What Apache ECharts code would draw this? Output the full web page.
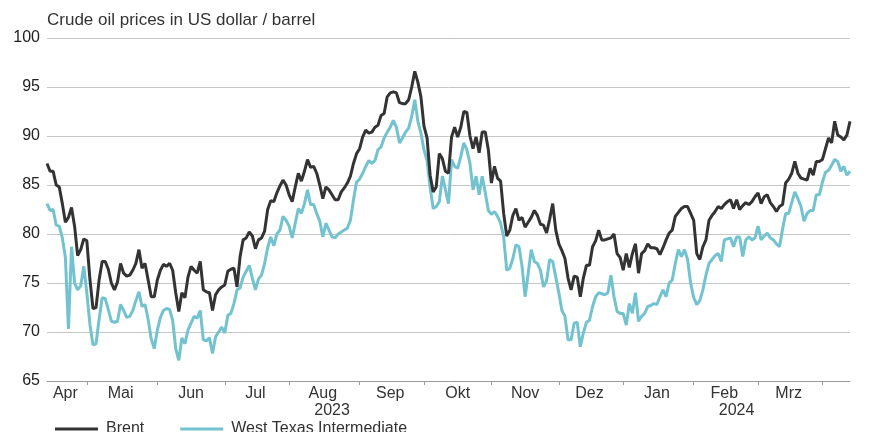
<!DOCTYPE html>
<html>
<head>
<meta charset="utf-8">
<script src="https://cdn.jsdelivr.net/npm/echarts@6/dist/echarts.min.js"></script>
<style>
  html, body { margin: 0; padding: 0; background: #fff; }
  #chart { width: 888px; height: 432px; }
</style>
</head>
<body>
<div id="chart"></div>
<script>
// Brent, USD/bbl, one value per trading day from 12.04.2023
var brent = [
  // Apr 2023
  87.2, 86.4, 86.4, 85.0, 84.8, 83.1, 81.2, 81.7, 82.7, 80.8, 77.8, 78.4, 79.5,
  // Mai
  79.3, 75.4, 72.4, 72.5, 75.3, 77.2, 77.2, 76.4, 75.0, 74.3, 75.1, 77.0, 76.0, 75.7, 75.8, 76.3, 77.0, 78.4, 76.5, 77.0, 75.3, 73.6, 73.6,
  // Jun
  75.3, 76.3, 76.9, 76.7, 77.0, 76.3, 74.0, 72.1, 74.0, 73.5, 75.6, 76.7, 76.3, 76.0, 77.2, 74.3, 74.1, 74.0, 72.2, 73.8, 74.3, 74.6,
  // Jul
  74.8, 76.2, 76.4, 76.5, 74.6, 77.7, 79.4, 79.6, 80.2, 79.8, 78.5, 79.4, 79.6, 80.3, 82.5, 83.4, 83.3, 84.2, 84.9, 85.5, 85.0,
  // Aug
  84.0, 83.3, 84.8, 86.2, 85.4, 86.4, 87.6, 86.8, 86.9, 86.2, 85.0, 83.6, 84.8, 84.5, 84.0, 83.5, 83.5, 84.3, 84.7, 85.2, 85.9, 87.2, 88.2,
  // Sep
  88.7, 89.9, 90.6, 90.3, 90.4, 90.9, 91.1, 92.1, 92.3, 94.0, 94.4, 94.5, 94.4, 93.4, 93.3, 93.3, 93.7, 95.0, 96.6, 95.5, 94.0,
  // Okt
  91.0, 89.8, 86.0, 84.3, 84.8, 88.2, 87.7, 86.4, 86.2, 89.9, 90.9, 89.9, 90.9, 92.5, 92.4, 90.0, 88.7, 89.9, 88.3, 90.4, 90.4, 88.6,
  // Nov
  85.2, 86.9, 85.7, 85.4, 82.1, 79.8, 80.4, 81.9, 82.6, 81.4, 81.7, 80.7, 81.2, 81.7, 82.4, 81.9, 81.0, 80.9, 80.1, 81.5, 83.1, 80.4,
  // Dez
  79.0, 78.3, 77.5, 75.5, 74.3, 75.7, 75.6, 73.6, 75.5, 76.8, 76.8, 78.7, 79.3, 80.4, 79.4, 79.4, 79.5, 79.6, 80.0, 78.0, 77.6,
  // Jan 2024
  76.3, 78.0, 76.6, 78.0, 79.0, 76.0, 78.0, 78.3, 79.0, 78.6, 78.6, 78.5, 77.9, 78.6, 79.4, 80.1, 80.4, 81.8, 82.2, 82.6, 82.8, 82.8, 82.1,
  // Feb
  81.4, 78.0, 77.4, 78.7, 79.4, 81.4, 81.9, 82.3, 82.8, 82.6, 83.0, 83.3, 83.5, 82.6, 83.5, 82.5, 82.9, 83.2, 83.0, 83.3, 83.8,
  // Mrz
  84.2, 83.1, 83.8, 84.0, 83.2, 82.8, 82.3, 82.8, 83.0, 85.2, 85.6, 86.2, 87.4, 86.2, 85.7, 85.6, 85.5, 86.7, 86.0, 87.4, 87.4,
  // Apr
  87.6, 88.7, 89.8, 89.3, 91.5, 90.1, 89.9, 89.6, 90.1, 91.5
];

// West Texas Intermediate, same days
var wti = [
  // Apr 2023
  83.1, 82.4, 82.5, 80.9, 80.8, 79.6, 77.6, 70.3, 78.7, 75.0, 74.3, 74.7, 76.7,
  // Mai
  74.0, 70.8, 68.7, 68.8, 71.3, 73.5, 73.4, 72.3, 71.1, 71.0, 71.1, 72.8, 72.2, 71.5, 71.6, 72.2, 73.2, 74.1, 72.6, 72.8, 71.3, 69.3, 68.3,
  // Jun
  70.2, 71.5, 72.2, 72.4, 72.3, 71.2, 68.3, 67.1, 69.4, 68.8, 70.2, 70.9, 71.6, 71.4, 72.2, 69.2, 69.1, 69.4, 67.8, 69.5, 70.0, 70.5,
  // Jul
  69.9, 71.7, 71.9, 72.9, 74.3, 74.5, 75.6, 76.2, 76.8, 75.5, 74.3, 75.4, 75.8, 77.0, 78.6, 79.7, 78.8, 80.0, 80.4, 81.8, 81.4,
  // Aug
  80.8, 79.6, 81.1, 82.6, 82.1, 83.1, 84.5, 83.0, 83.0, 82.1, 81.3, 79.7, 81.1, 80.4, 79.7, 79.6, 80.0, 80.2, 80.4, 80.6, 81.4, 83.5, 85.3,
  // Sep
  85.6, 86.2, 86.9, 87.5, 87.2, 87.5, 88.6, 88.9, 89.8, 90.4, 90.9, 91.6, 90.9, 89.3, 89.8, 90.4, 90.8, 92.0, 93.7, 91.5, 90.3,
  // Okt
  88.6, 87.5, 84.8, 82.6, 82.8, 83.3, 85.9, 84.5, 83.1, 87.6, 86.9, 86.7, 87.9, 89.3, 88.6, 87.2, 84.5, 85.9, 84.0, 85.9, 84.2, 82.4,
  // Nov
  82.0, 82.3, 81.8, 81.1, 79.7, 76.3, 76.5, 77.5, 78.9, 78.7, 76.7, 73.6, 76.0, 78.4, 77.2, 77.0, 76.3, 74.6, 75.2, 77.4, 77.2, 75.6,
  // Dez
  74.0, 72.2, 71.6, 69.2, 69.2, 70.9, 71.0, 68.5, 69.9, 71.0, 71.2, 72.6, 73.6, 74.0, 73.9, 73.8, 74.0, 75.8, 73.6, 72.1, 71.9,
  // Jan 2024
  71.9, 70.7, 72.9, 71.9, 74.0, 71.1, 71.6, 71.9, 72.6, 72.7, 72.9, 72.8, 73.6, 74.3, 73.6, 75.0, 75.3, 77.0, 78.4, 77.7, 78.4, 77.4, 75.0,
  // Feb
  73.5, 72.8, 73.2, 74.3, 75.8, 77.0, 77.4, 77.8, 78.0, 77.2, 79.4, 79.5, 79.6, 78.7, 79.7, 79.7, 77.7, 79.4, 79.7, 79.4, 79.6,
  // Mrz
  80.8, 79.4, 79.8, 80.1, 79.6, 79.4, 79.0, 78.7, 80.5, 82.1, 82.1, 83.2, 84.3, 83.6, 82.8, 81.3, 82.1, 82.4, 82.4, 84.0, 84.0,
  // Apr
  85.3, 86.3, 86.5, 87.0, 87.6, 87.4, 86.4, 86.9, 86.0, 86.4
];

var monthNames = ['Jan', 'Feb', 'Mrz', 'Apr', 'Mai', 'Jun', 'Jul', 'Aug', 'Sep', 'Okt', 'Nov', 'Dez'];
var seriesNames = ['Brent', 'West Texas Intermediate'];
var seriesColors = ['#333333', '#72c3cf'];
var titleText = 'Crude oil prices in US dollar / barrel';

// trading days (Mo-Fr) starting 12.04.2023
var dates = [];
var d = new Date(Date.UTC(2023, 3, 12));
while (dates.length < brent.length) {
  var wd = d.getUTCDay();
  if (wd !== 0 && wd !== 6) dates.push(d.toISOString().slice(0, 10));
  d.setUTCDate(d.getUTCDate() + 1);
}

// tick at first day of each month, label in the middle of each month
var monthStarts = [0];
for (var i = 1; i < dates.length; i++) {
  if (dates[i].slice(0, 7) !== dates[i - 1].slice(0, 7)) monthStarts.push(i);
}
var tickAt = {}, labelAt = {};
for (var k = 0; k < monthStarts.length; k++) {
  if (k > 0) tickAt[monthStarts[k]] = true;
  if (k + 1 < monthStarts.length) labelAt[Math.floor((monthStarts[k] + monthStarts[k + 1]) / 2)] = true;
}
// year label in the middle of each year's span
var yearAt = {};
var yStart = 0;
for (var j = 1; j <= dates.length; j++) {
  if (j === dates.length || dates[j].slice(0, 4) !== dates[j - 1].slice(0, 4)) {
    yearAt[Math.floor((yStart + j - 1) / 2)] = true;
    yStart = j;
  }
}

var font = 'Liberation Sans, Arial, sans-serif';
var chart = echarts.init(document.getElementById('chart'));
chart.setOption({
  animation: false,
  backgroundColor: '#fff',
  title: {
    text: titleText,
    left: 47,
    top: 12,
    padding: 0,
    textStyle: { fontSize: 17, fontWeight: 'normal', color: '#333', fontFamily: font }
  },
  grid: { left: 47, right: 38, top: 38, bottom: 51, containLabel: false, outerBoundsMode: 'none' },
  legend: {
    data: [
      { name: seriesNames[0], itemStyle: { color: seriesColors[0] } },
      { name: seriesNames[1], itemStyle: { color: seriesColors[1] } }
    ],
    left: 55,
    top: 421,
    padding: 0,
    icon: 'rect',
    itemWidth: 43,
    itemHeight: 3,
    itemGap: 36,
    textStyle: { fontSize: 16, color: '#333', fontFamily: font, padding: [0, 0, 0, 3] }
  },
  xAxis: [{
    type: 'category',
    data: dates,
    boundaryGap: false,
    axisLine: { lineStyle: { color: '#9a9a9a', width: 1 } },
    axisTick: {
      length: 4,
      lineStyle: { color: '#9a9a9a' },
      interval: function (idx) { return !!tickAt[idx]; }
    },
    axisLabel: {
      interval: function (idx) { return !!labelAt[idx]; },
      formatter: function (v) { return monthNames[parseInt(v.slice(5, 7), 10) - 1]; },
      margin: 5,
      fontSize: 16,
      color: '#333',
      fontFamily: font
    },
    splitLine: { show: false }
  }, {
    type: 'category',
    data: dates,
    boundaryGap: false,
    position: 'bottom',
    offset: 17,
    axisLine: { show: false },
    axisTick: { show: false },
    axisLabel: {
      interval: function (idx) { return !!yearAt[idx]; },
      formatter: function (v) { return v.slice(0, 4); },
      margin: 5,
      fontSize: 16,
      color: '#333',
      fontFamily: font
    },
    splitLine: { show: false }
  }],
  yAxis: {
    type: 'value',
    min: 65,
    max: 100,
    interval: 5,
    axisLine: { show: false },
    axisTick: { show: false },
    axisLabel: { margin: 7, fontSize: 16, color: '#222', fontFamily: font },
    splitLine: { lineStyle: { color: '#c6c6c6', width: 1 } }
  },
  series: [{
    name: seriesNames[0],
    type: 'line',
    data: brent,
    symbol: 'none',
    lineStyle: { color: seriesColors[0], width: 3 },
    itemStyle: { color: seriesColors[0] },
    z: 3
  }, {
    name: seriesNames[1],
    type: 'line',
    data: wti,
    symbol: 'none',
    lineStyle: { color: seriesColors[1], width: 3 },
    itemStyle: { color: seriesColors[1] },
    z: 2
  }]
});
</script>
</body>
</html>
